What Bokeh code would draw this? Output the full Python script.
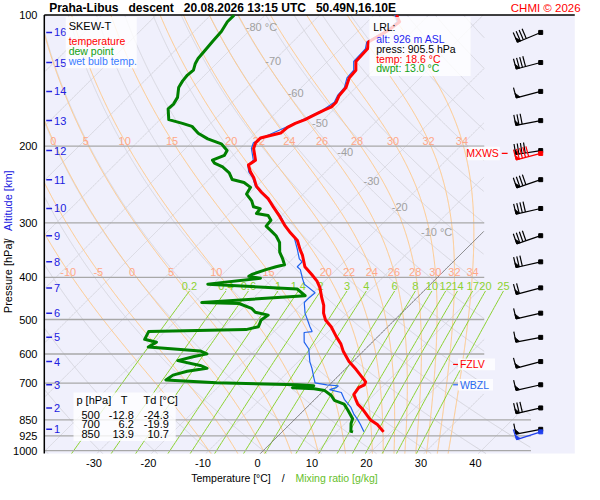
import numpy as np
from bokeh.plotting import figure
from bokeh.models import Range1d, Label
from bokeh.core.properties import value
from bokeh.embed import file_html
from bokeh.resources import INLINE

# ---------------- sounding data ----------------
temp_p = [100, 103.6, 108, 115.3, 119.5, 127.8, 133.8, 139.4, 146.7, 152.9,
          158.5, 162.5, 165.1, 169.3, 173.8, 177.3, 181.0, 186.6, 189.5, 191.5,
          196.5, 202.5, 215.4, 221, 229, 236.2, 247.3, 255.1, 264.3, 275.3,
          289.9, 303.5, 316.2, 329.3, 345, 355.6, 378.2, 394.1, 408.3, 423.2,
          445.4, 464.1, 483.5, 501.1, 519.4, 546.7, 569.5, 590.3, 624.5, 650.6,
          671, 695.3, 706.1, 717, 743, 762.5, 782, 802.4, 848.9, 870.9, 905.5]
temp_t = [-55.9, -54.1, -54.5, -56.1, -55.0, -54.8, -53.2, -53.0, -51.8, -51.6,
          -50.9, -50.9, -51.6, -52.5, -53.4, -54.5, -55.2, -55.4, -57.1, -58.2,
          -58.2, -57.5, -55.0, -55.4, -53.8, -52.1, -50.0, -48.0, -45.5, -43.2,
          -40.2, -37.7, -35.2, -32.5, -30.4, -28.9, -26.3, -23.6, -21.4, -19.6,
          -17.5, -15.7, -14.3, -12.7, -10.4, -7.7, -5.4, -3.75, -0.7, 2.0,
          3.9, 6.1, 6.4, 5.9, 6.25, 7.5, 8.75, 10.5, 13.9, 16.1, 18.6]

dew_p = [100, 103.6, 109.1, 114.8, 120.8, 125.8, 129.1, 133.8, 137.3, 141.6,
         146.7, 154.5, 160.1, 164.2, 173.8, 177.3, 180.1, 186.7, 192.4, 197.5,
         204.6, 209.9, 215.4, 218.7, 223.2, 230.2, 238.6, 242.3, 248.6, 257.6,
         267.0, 275.4, 278.2, 285.4, 288.4, 295.8, 305.1, 312.9, 321.1, 332.8,
         350.2, 363.0, 374.3, 378.2, 384.0, 394.0, 398.0, 402.2, 414.7, 425.5,
         440.9, 457.1, 459.4, 471.3, 481.1, 488.5, 501.1, 519.4, 527.4, 532.9,
         555.2, 563.7, 578.4, 590.3, 599.4, 608.7, 621.3, 637.4, 647.3, 657.3,
         670.9, 688.3, 698.9, 706.1, 709.7, 717.0, 720.7, 728.1, 747.0, 766.4,
         782.2, 806.6, 844.6, 866.5, 902.7, 905.5]
dew_t = [-85.7, -85.7, -85.0, -84.8, -84.5, -84.3, -83.9, -83.0, -83.2, -83.0,
         -82.5, -80.9, -80.4, -80.5, -78.4, -75.2, -72.9, -70.5, -67.7, -64.3,
         -62.0, -61.6, -62.9, -62.0, -59.8, -57.5, -55.7, -53.0, -50.9, -50.4,
         -48.2, -46.8, -45.2, -45.0, -42.5, -41.1, -40.9, -39.1, -37.3, -35.4,
         -33.6, -31.8, -30.4, -31.6, -32.9, -34.6, -34.8, -32.3, -40.9, -23.6,
         -20.9, -38.6, -31.6, -28.4, -27.0, -24.1, -24.5, -23.75, -25.5, -43.0,
         -42.3, -39.6, -40.2, -30.0, -28.2, -30.2, -32.3, -27.3, -25.5, -28.6,
         -30.5, -30.9, -21.1, -5.9, -2.7, -6.25, -2.1, 0.2, 2.3, 3.75,
         6.25, 8.0, 10.5, 11.1, 12.5, 13.0]

wb_p = [100, 103.6, 108, 115.3, 119.5, 127.8, 133.8, 139.4, 146.7, 152.9,
        158.5, 165.1, 173.8, 181.0, 189.5, 196.5, 202.5, 215.4, 221, 229,
        236.2, 247.3, 255.1, 264.3, 278.2, 289.9, 305.1, 324.4, 344.9, 363.0,
        368.6, 378.2, 384.0, 402.2, 414.7, 434.2, 445.5, 457.1, 483.5, 519.4,
        532.9, 535.6, 563.7, 584.3, 624.5, 647.3, 681.3, 698.9, 706.1, 709.7,
        717.0, 724.4, 735.6, 762.4, 794.3, 823.3, 848.9, 870.9, 905.5]
wb_t = [-56.25, -54.5, -54.8, -56.4, -55.4, -55.2, -53.6, -53.4, -52.1, -51.9,
        -51.25, -51.9, -53.75, -55.5, -57.5, -58.6, -57.9, -55.4, -55.5, -54.1,
        -52.3, -50.2, -48.2, -45.7, -42.5, -40.0, -37.3, -33.6, -30.9, -28.75,
        -27.7, -27.7, -26.6, -24.6, -23.2, -19.6, -19.8, -19.8, -17.7, -14.3,
        -13.0, -14.3, -12.5, -10.4, -7.9, -6.25, -4.1, -3.0, -0.5, 1.8,
        1.8, 0.9, 3.6, 5.4, 8.0, 9.8, 11.6, 13.0, 15.0]

alt_km = [1, 2, 3, 4, 5, 6, 7, 8, 9, 10, 11, 12, 13, 14, 15, 16]
alt_p = [893.5, 798, 706, 624.5, 549.5, 483.5, 423, 368.6, 321, 278,
         238.7, 204.7, 174.7, 149.7, 128.5, 109.6]
wind_dir = [259, 257, 257, 255, 259, 257, 255, 257, 251, 257, 251, 261, 259, 255, 255, 247]
wind_kt = [10, 30, 10, 10, 10, 10, 20, 30, 40, 40, 40, 40, 30, 10, 40, 40]
mxws_p, mxws_dir, mxws_kt = 207.8, 255, 50
sfc_dir, sfc_kt = 252, 10

lrl_alt_m = 926
lrl_p = 905.5
lrl_temp = 18.6
lrl_dwpt = 13.0
fzlv_p = 634
wbzl_p = 706

table_p = [500, 700, 850]
table_t = [-12.8, 6.2, 13.9]
table_td = [-24.3, -19.9, 10.7]

pressure_ticks = [100, 200, 300, 400, 500, 600, 700, 850, 925, 1000]
isobar_levels = [200, 300, 400, 500, 600, 700, 850, 925, 1000]
temp_ticks = [-30, -20, -10, 0, 10, 20, 30, 40]
isotherm_levels = list(range(-120, 51, 10))
dry_theta_c = list(range(-40, 191, 10))
theta_w_levels = [-10, -5, 0, 5, 10, 15, 20, 22, 24, 26, 28, 30, 32, 34]
mixing_levels = [0.2, 0.4, 0.6, 1, 1.4, 2, 3, 4, 6, 8, 10, 12, 14, 17, 20, 25]
mixing_labels = ["0.2", "0.4", "0.6", "1", "1.4", "2", "3", "4", "6", "8",
                 "10", "12", "14", "17", "20", "25"]
iso_label_t = [-80, -70, -60, -50, -40, -30, -20, -10]
iso_label_text = ["-80 °C", "-70", "-60", "-50", "-40", "-30", "-20", "-10 °C"]

# ---------------- geometry (reference pixel frame) ----------------
W, H = 584, 484
PXC, PXY = 5.6, 195.4          # px per degC, px per ln(p) unit
SKEW = PXY / PXC
YOFF = 0.0307
FONT = "Liberation Sans"


def rx(X):
    return (X - 264) / PXC


def ry(y):
    return (465 - y) / PXY


XL, XR = rx(45), rx(590)       # diagram frame
YB, YT = ry(468), float(np.log(10.0))
XB_HIGH = rx(497)
XB_LOW = rx(545)


def Yp(p):
    return np.log(1000.0 / np.asarray(p, dtype=float))


def skx(t, Y):
    return np.asarray(t, dtype=float) + SKEW * (np.asarray(Y, dtype=float) + YOFF)


def clipY(x, Y):
    pp = 1000 * np.exp(-np.asarray(Y))
    xm = np.where(pp >= 800, XB_LOW, XB_HIGH)
    return np.where((x <= xm) & (x >= XL), x, np.nan)


p = figure(width=W, height=H, x_range=Range1d(rx(0), rx(600)), y_range=Range1d(ry(500), ry(0)),
           output_backend="svg", toolbar_location=None, title=None,
           x_axis_location=None, y_axis_location=None,
           min_border_left=0, min_border_right=0, min_border_top=0, min_border_bottom=0)
p.background_fill_color = "white"
p.border_fill_color = "white"
p.outline_line_color = None
p.grid.visible = False

# diagram background
p.quad(left=[XL], right=[XR], bottom=[YB], top=[YT], fill_color="#F0F0FC", line_color=None)

Yg = np.linspace(YB, YT, 700)

# dry adiabats
xs, ys = [], []
for th in dry_theta_c:
    T = (th + 273.15) * np.exp(-Yg) ** 0.2857 - 273.15
    xs.append(clipY(skx(T, Yg), Yg)); ys.append(Yg)
p.multi_line(xs, ys, line_color="#D6D6DE", line_width=1)

# isotherms
xs, ys = [], []
for t in isotherm_levels:
    xs.append(clipY(skx(t, Yg), Yg)); ys.append(Yg)
p.multi_line(xs, ys, line_color="#D6D6DE", line_width=1)

# pseudo-adiabats
RD, CP, LV, EPS = 287.04, 1005.7, 2.501e6, 0.622


def dT_dY(T, Y):
    pp = 1000 * np.exp(-Y)
    tc = T - 273.15
    es = 6.112 * np.exp(17.67 * tc / (tc + 243.5))
    rs = EPS * es / (pp - es)
    dtdp = (RD * T + LV * rs) / (CP + LV * LV * rs * EPS / (RD * T * T)) / pp
    return -pp * dtdp


def integrate(T0, Ys):
    out = [T0]
    T = T0
    for i in range(len(Ys) - 1):
        h = Ys[i + 1] - Ys[i]
        y = Ys[i]
        k1 = dT_dY(T, y)
        k2 = dT_dY(T + h / 2 * k1, y + h / 2)
        k3 = dT_dY(T + h / 2 * k2, y + h / 2)
        k4 = dT_dY(T + h * k3, y + h)
        T = T + h / 6 * (k1 + 2 * k2 + 2 * k3 + k4)
        out.append(T)
    return np.array(out)


T0 = np.array(theta_w_levels, dtype=float) + 273.15
Yup = np.linspace(0, YT, 500)
Ydn = np.linspace(0, YB, 6)
Tup = integrate(T0, Yup)
Tdn = integrate(T0, Ydn)
Ym = np.concatenate([Ydn[::-1], Yup[1:]])
Tm = np.concatenate([Tdn[::-1], Tup[1:]], axis=0) - 273.15
xs, ys, mx_lines = [], [], []
for j in range(len(theta_w_levels)):
    xl = skx(Tm[:, j], Ym)
    mx_lines.append(xl)
    xs.append(clipY(xl, Ym)); ys.append(Ym)
p.multi_line(xs, ys, line_color="#FFC888", line_width=1)

# mixing ratio lines
Ytop_mr = float(Yp(430))
Ymr = np.linspace(YB, Ytop_mr, 60)
pm = 1000 * np.exp(-Ymr)
xs, ys, mr_top = [], [], []
for w in mixing_levels:
    e = w * pm / (622 + w)
    a = np.log(e / 6.112)
    td = 243.5 * a / (17.67 - a)
    xl = skx(td, Ymr)
    xs.append(xl); ys.append(Ymr); mr_top.append(xl[-1])
p.multi_line(xs, ys, line_color="#8CD232", line_width=1)

# isobars
ib_y = [float(v) for v in Yp(isobar_levels)]
ib_x1 = [XB_LOW if lv >= 800 else XB_HIGH for lv in isobar_levels]
p.segment(x0=[XL] * len(ib_y), y0=ib_y, x1=ib_x1, y1=ib_y, line_color="#A8A8A8", line_width=1.3)

# 0 degC isotherm
p.line(clipY(skx(0, Yg), Yg), Yg, line_color="#707070", line_width=0.9)

# frame lines (left and top)
p.segment(x0=[XL, XL], y0=[YB, YT], x1=[XL, XR], y1=[YT, YT], line_color="black", line_width=1.5)

# grid labels
lab_Y200, lab_Y400 = ry(145), ry(280)
lx, ly, lt = [], [], []
for j, tw in enumerate(theta_w_levels):
    for Yl in (lab_Y200, lab_Y400):
        xv = float(np.interp(Yl, Ym, mx_lines[j]))
        if XL + 1.0 < xv < XB_HIGH:
            lx.append(xv); ly.append(Yl); lt.append(str(tw))
p.text(x=lx, y=ly, text=lt, text_font=value(FONT), text_font_size="11px",
       text_color="#FFA888", text_align="center", text_baseline="middle")

p.text(x=mr_top, y=[ry(295)] * len(mr_top), text=mixing_labels, text_font=value(FONT),
       text_font_size="11px", text_color="#8CD232", text_align="center", text_baseline="middle")

iso_y = [ry(v) for v in (27, 63, 96, 127, 157, 186, 213, 239)]
iso_x = [float(skx(t, yy)) - 8 / PXC for t, yy in zip(iso_label_t, iso_y)]
p.text(x=iso_x, y=iso_y, text=iso_label_text, text_font=value(FONT), text_font_size="11px",
       text_color="#A0A0A0", text_align="left", text_baseline="middle")

# profiles
p.line(skx(wb_t, Yp(wb_p)), Yp(wb_p), line_color="#1F62EE", line_width=1.2)
p.line(skx(dew_t, Yp(dew_p)), Yp(dew_p), line_color="#008000", line_width=3, line_join="round")
p.line(skx(temp_t, Yp(temp_p)), Yp(temp_p), line_color="#FF0000", line_width=3, line_join="round")

# axis tick labels
p.text(x=[rx(38)] * len(pressure_ticks), y=[float(v) for v in Yp(pressure_ticks)],
       text=[str(v) for v in pressure_ticks], text_font=value(FONT), text_font_size="11px",
       text_color="black", text_align="right", text_baseline="middle")
p.text(x=temp_ticks, y=[ry(478)] * len(temp_ticks), text=[str(v) for v in temp_ticks],
       text_font=value(FONT), text_font_size="11px", text_color="black",
       text_align="center", text_baseline="middle")

# altitude scale
ay = [float(v) for v in Yp(alt_p)]
p.segment(x0=[rx(47)] * 16, y0=ay, x1=[rx(53)] * 16, y1=ay, line_color="#2020E0", line_width=1.5)
p.text(x=[rx(55)] * 16, y=ay, text=[str(k) for k in alt_km], text_font=value(FONT),
       text_font_size="11px", text_color="#2020E0", text_align="left", text_baseline="middle")

# boxes
fz_y, wb_y, mx_y = float(Yp(fzlv_p)), float(Yp(wbzl_p)), float(Yp(mxws_p))
box_l = [rx(67), rx(379), rx(75), rx(470), rx(470), rx(480)]
box_r = [rx(140), rx(483), rx(180), rx(508), rx(506), rx(513)]
box_t = [ry(17), ry(17), ry(405), fz_y + 6 / PXY, wb_y + 6 / PXY, mx_y + 7 / PXY]
box_b = [ry(70), ry(78), ry(455), fz_y - 6 / PXY, wb_y - 6 / PXY, mx_y - 7 / PXY]
p.quad(left=box_l, right=box_r, top=box_t, bottom=box_b, fill_color="white",
       fill_alpha=0.8, line_color=None)


def txt(x, y, s, color="black", size="10.5px", align="left", baseline="middle",
        bold=False, angle=0.0):
    p.add_layout(Label(x=x, y=y, text=s, text_color=color, text_font=FONT,
                       text_font_size=size, text_align=align, text_baseline=baseline,
                       text_font_style="bold" if bold else "normal", angle=angle))


# legend
txt(rx(70), ry(26), "SKEW-T", size="11px")
txt(rx(70), ry(42), "temperature", color="#FF0000")
txt(rx(70), ry(52), "dew point", color="#12A012")
txt(rx(70), ry(62), "wet bulb temp.", color="#3A7BFF")

# LRL box
txt(rx(383), ry(27), "LRL:")
txt(rx(386), ry(40), f"alt: {lrl_alt_m} m ASL", color="#2424F0")
txt(rx(386), ry(50), f"press: {lrl_p:.1f} hPa")
txt(rx(386), ry(60), f"temp: {lrl_temp:.1f} °C", color="#FF0000")
txt(rx(386), ry(70), f"dwpt: {lrl_dwpt:.1f} °C", color="#12A012")

# table
txt(rx(78), ry(413), "p [hPa]", size="11px")
txt(rx(127), ry(413), "T", size="11px", align="center")
txt(rx(147), ry(413), "Td [°C]", size="11px")
for i, (tp, tt, tdv) in enumerate(zip(table_p, table_t, table_td)):
    yy = ry(428 + 10 * i)
    txt(rx(102), yy, f"{tp}", size="11px", align="right")
    txt(rx(137), yy, f"{tt:.1f}", size="11px", align="right")
    txt(rx(173), yy, f"{tdv:.1f}", size="11px", align="right")

# level markers
p.segment(x0=[rx(465), rx(465), rx(515)], y0=[fz_y, wb_y, mx_y],
          x1=[rx(470), rx(470), rx(521)], y1=[fz_y, wb_y, mx_y],
          line_color=["#FF0000", "#2A6AF0", "#FF0000"], line_width=1.2)
txt(rx(472), fz_y, "FZLV", color="#FF0000")
txt(rx(472), wb_y, "WBZL", color="#2A6AF0")
txt(rx(512), mx_y, "MXWS", color="#FF0000", align="right")


# wind barbs
def barbs(plist, dlist, slist, color):
    segx, segy, trix, triy, dx, dy = [], [], [], [], [], []
    L, FL, SP = 26.0, 11.0, 3.3
    xd = rx(555)
    for pp, dd, ss in zip(plist, dlist, slist):
        yd = float(Yp(pp))
        a = np.radians(dd)
        ux, uy = np.sin(a), -np.cos(a)
        fx, fy = -uy, ux

        def P(px, py):
            return xd + px / PXC, yd - py / PXY
        a0 = P(0, 0)
        a1 = P(ux * L, uy * L)
        segx.append([a0[0], a1[0]]); segy.append([a0[1], a1[1]])
        nfull = int(ss // 10)
        for i in range(nfull):
            d = L - i * SP
            b0 = P(ux * d, uy * d)
            b1 = P(ux * d + fx * FL, uy * d + fy * FL)
            segx.append([b0[0], b1[0]]); segy.append([b0[1], b1[1]])
        if ss % 10 >= 5:
            d = L - nfull * SP
            b0 = P(ux * d, uy * d)
            b1 = P(ux * d + fx * FL / 2, uy * d + fy * FL / 2)
            segx.append([b0[0], b1[0]]); segy.append([b0[1], b1[1]])
        t1 = P(ux * L, uy * L)
        t2 = P(ux * (L - 4), uy * (L - 4))
        t3 = P(ux * L + fx * 5, uy * L + fy * 5)
        trix.append([t1[0], t2[0], t3[0]]); triy.append([t1[1], t2[1], t3[1]])
        dx.append(a0[0]); dy.append(a0[1])
    p.multi_line(segx, segy, line_color=color, line_width=1.2)
    p.patches(trix, triy, fill_color=color, line_color=color, line_width=0.8)
    p.scatter(dx, dy, marker="square", size=4, color=color)


barbs(alt_p, wind_dir, wind_kt, "black")
barbs([mxws_p], [mxws_dir], [mxws_kt], "#FF0000")
barbs([lrl_p], [sfc_dir], [sfc_kt], "#1F3FEE")

# titles and axis titles
txt(rx(50), ry(8), "Praha-Libus\u00a0\u00a0\u00a0descent\u00a0\u00a0\u00a020.08.2026 13:15 UTC\u00a0\u00a0\u00a050.49N,16.10E",
    size="12px", bold=True)
txt(rx(596), ry(8), "CHMI © 2026", color="#FF0000", size="11.5px", align="right")
txt(rx(196), ry(493), "Temperature [°C]", size="10.5px")
txt(rx(289), ry(493), "/", size="10.5px")
txt(rx(303), ry(493), "Mixing ratio [g/kg]", color="#66C02A", size="10.5px")
txt(rx(8), ry(323), "Pressure [hPa]", size="11px", angle=np.pi / 2)
txt(rx(8), ry(249), "/", size="11px", angle=np.pi / 2)
txt(rx(8), ry(238), "Altitude [km]", color="#2020E0", size="11px", angle=np.pi / 2)

open("out.html", "w").write(file_html(p, INLINE))
